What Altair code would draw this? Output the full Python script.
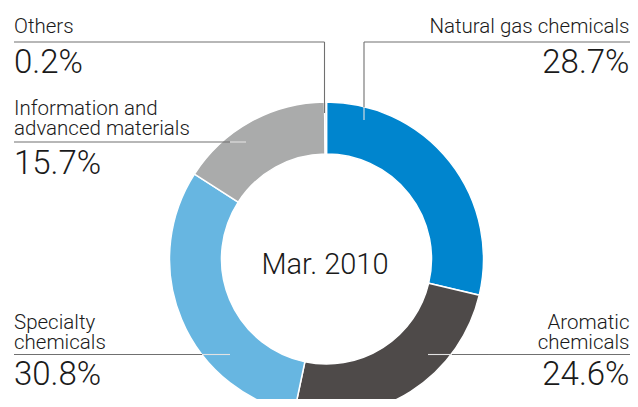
import altair as alt
import pandas as pd

# ---- data ----
categories = ["Natural gas chemicals", "Aromatic chemicals", "Specialty chemicals",
              "Information and advanced materials", "Others"]
shares = [28.7, 24.6, 30.8, 15.7, 0.2]
pct_labels = ["28.7%", "24.6%", "30.8%", "15.7%", "0.2%"]
name_lines = [["Natural gas chemicals"], ["Aromatic", "chemicals"], ["Specialty", "chemicals"],
              ["Information and", "advanced materials"], ["Others"]]
colors = ["#0085CE", "#4E4A49", "#67B6E1", "#AAABAB", "#DEDEDE"]
center_label = "Mar. 2010"

# ---- layout (page pixel coordinates) ----
W, H = 622, 391
CX, CY = 326.5, 259
R_OUT, R_IN = 157, 105
RIGHT_X = 629.5
label_pos = {  # anchor x, align, first-line baseline, percent baseline
    "Natural gas chemicals": (RIGHT_X, "right", 33, 73),
    "Aromatic chemicals": (RIGHT_X, "right", 329, 385),
    "Specialty chemicals": (14, "left", 329, 385),
    "Information and advanced materials": (14, "left", 115, 174),
    "Others": (14, "left", 33, 73),
}
leaders = [  # x1, y1, x2, y2, tone
    (14, 42, 324.5, 42, "dark"), (324.5, 42, 324.5, 113, "dark"),
    (364, 42, 640, 42, "dark"), (364, 42, 364, 107, "dark"), (364, 107, 364, 120, "light"),
    (14, 142, 230, 142, "dark"), (230, 142, 246, 142, "light"),
    (14, 354.5, 202, 354.5, "dark"), (202, 354.5, 230, 354.5, "light"),
    (452, 354.5, 640, 354.5, "dark"), (428, 354.5, 452, 354.5, "light"),
]

FONT = "Roboto"
WEIGHT = 300
xs = alt.Scale(domain=[8, 8 + W], zero=False, nice=False)
ys = alt.Scale(domain=[8 + H, 8], zero=False, nice=False)

pie_df = pd.DataFrame({"category": categories, "share": shares, "idx": range(len(categories))})
donut = alt.Chart(pie_df).mark_arc(
    radius=R_OUT, innerRadius=R_IN, stroke="white", strokeWidth=1.5
).encode(
    theta=alt.Theta("share:Q", stack=True),
    order=alt.Order("idx:Q"),
    color=alt.Color("category:N", scale=alt.Scale(domain=categories, range=colors), legend=None),
    x=alt.value(CX - 8), y=alt.value(CY - 8),
)

seg_df = pd.DataFrame(leaders, columns=["x1", "y1", "x2", "y2", "tone"])
dark = alt.Chart(seg_df[seg_df.tone == "dark"]).mark_rule(color="#707070", strokeWidth=1.1).encode(
    x=alt.X("x1:Q", scale=xs, axis=None), x2="x2:Q",
    y=alt.Y("y1:Q", scale=ys, axis=None), y2="y2:Q",
)
light = alt.Chart(seg_df[seg_df.tone == "light"]).mark_rule(color="#E2E2E2", strokeWidth=1.1).encode(
    x=alt.X("x1:Q", scale=xs, axis=None), x2="x2:Q",
    y=alt.Y("y1:Q", scale=ys, axis=None), y2="y2:Q",
)

name_rows, pct_rows = [], []
for cat, lines, pct in zip(categories, name_lines, pct_labels):
    ax, al, yb, yp = label_pos[cat]
    for i, ln in enumerate(lines):
        name_rows.append({"x": ax, "y": yb + 20 * i, "text": ln, "align": al})
    pct_rows.append({"x": ax, "y": yp, "text": pct, "align": al})
name_df = pd.DataFrame(name_rows)
pct_df = pd.DataFrame(pct_rows)

def text_layer(df, size):
    layers = []
    for al in ["left", "right"]:
        sub = df[df["align"] == al]
        layers.append(alt.Chart(sub).mark_text(
            align=al, baseline="alphabetic", font=FONT, fontWeight=WEIGHT,
            fontSize=size, color="#1a1a1a"
        ).encode(
            x=alt.X("x:Q", scale=xs, axis=None),
            y=alt.Y("y:Q", scale=ys, axis=None),
            text="text:N",
        ))
    return layers

center = alt.Chart(pd.DataFrame({"text": [center_label]})).mark_text(
    align="center", baseline="alphabetic", font=FONT, fontWeight=WEIGHT,
    fontSize=29, color="#1a1a1a"
).encode(x=alt.value(CX - 8 - 1.5), y=alt.value(274 - 8), text="text:N")

chart = alt.layer(
    donut, dark, light, *text_layer(name_df, 20.5), *text_layer(pct_df, 33), center
).properties(
    width=W, height=H, autosize=alt.AutoSizeParams(type="none"), padding=0
).configure_view(stroke=None).resolve_scale(color="independent")

chart.save("out.html", embed_options={"renderer": "svg", "actions": False})
